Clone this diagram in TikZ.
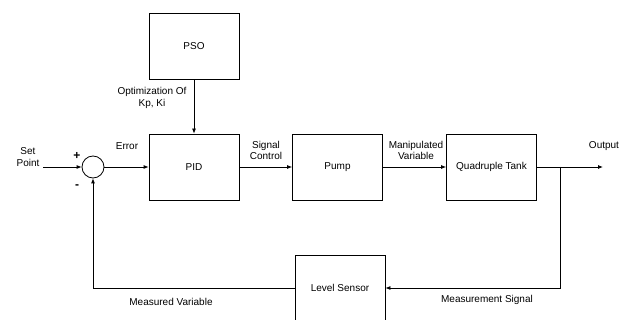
\documentclass[tikz,border=0pt]{standalone}
\usepackage{fontspec}
\setmainfont{Liberation Sans}
\usetikzlibrary{positioning,arrows.meta}

\begin{document}
\begin{tikzpicture}[x=1pt,y=-1pt,font=\fontsize{10}{11.5}\selectfont,
	block/.style={draw,line width=0.8pt,minimum width=90pt,minimum height=66pt,inner sep=0pt},
	sumnode/.style={draw,circle,line width=0.8pt,minimum size=22pt,inner sep=0pt},
	sig/.style={line width=0.8pt,-{Latex[length=5pt,width=4pt]}},
	lbl/.style={align=center,inner sep=0pt}]
	
	\useasboundingbox (0,0) rectangle (626,320);
	\clip (0,0) rectangle (626,320);
	
	% blocks
	\node[block] (pso) at (194,46.5) {PSO};
	\node[block] (pid) at (194,167) {PID};
	\node[block] (pump) at (337.5,167) {Pump};
	\node[block] (tank) at (491.5,167) {Quadruple Tank};
	\node[block] (sensor) at (340,288) {Level Sensor};
	\node[sumnode] (sum) at (93,167) {};
	
	% points
	\coordinate (setp) at (43,167);
	\coordinate (out) at (603,167);
	\coordinate (branch) at (560,167);
	\coordinate (corner) at (93,288);
	
	% signals
	\draw[sig] (setp) -- (sum);
	\draw[sig] (sum) -- (pid);
	\draw[sig] (pso) -- (pid);
	\draw[sig] (pid) -- (pump);
	\draw[sig] (pump) -- (tank);
	\draw[sig] (tank) -- (out);
	\draw[sig] (branch) |- (sensor);
	\draw[sig] (sensor) -- (corner) -- (sum);
	
	% labels
	\node[lbl] (setlbl) at (28,157) {Set\\Point};
	\node[lbl,font=\bfseries\fontsize{12}{12}\selectfont] (plus) at (77,156) {+};
	\node[lbl,font=\bfseries\fontsize{12}{12}\selectfont] (minus) at (77,187) {-};
	\node[lbl] (errlbl) at (127,146) {Error};
	\node[lbl] (optlbl) at (152,98) {Optimization Of\\Kp, Ki};
	\node[lbl] (ctllbl) at (266,150.5) {Signal\\Control};
	\node[lbl] (manlbl) at (416,150.5) {Manipulated\\Variable};
	\node[lbl] (outlbl) at (604,146) {Output};
	\node[lbl] (mvlbl) at (171,302) {Measured Variable};
	\node[lbl] (mslbl) at (487,299.5) {Measurement Signal};
\end{tikzpicture}
\end{document}
